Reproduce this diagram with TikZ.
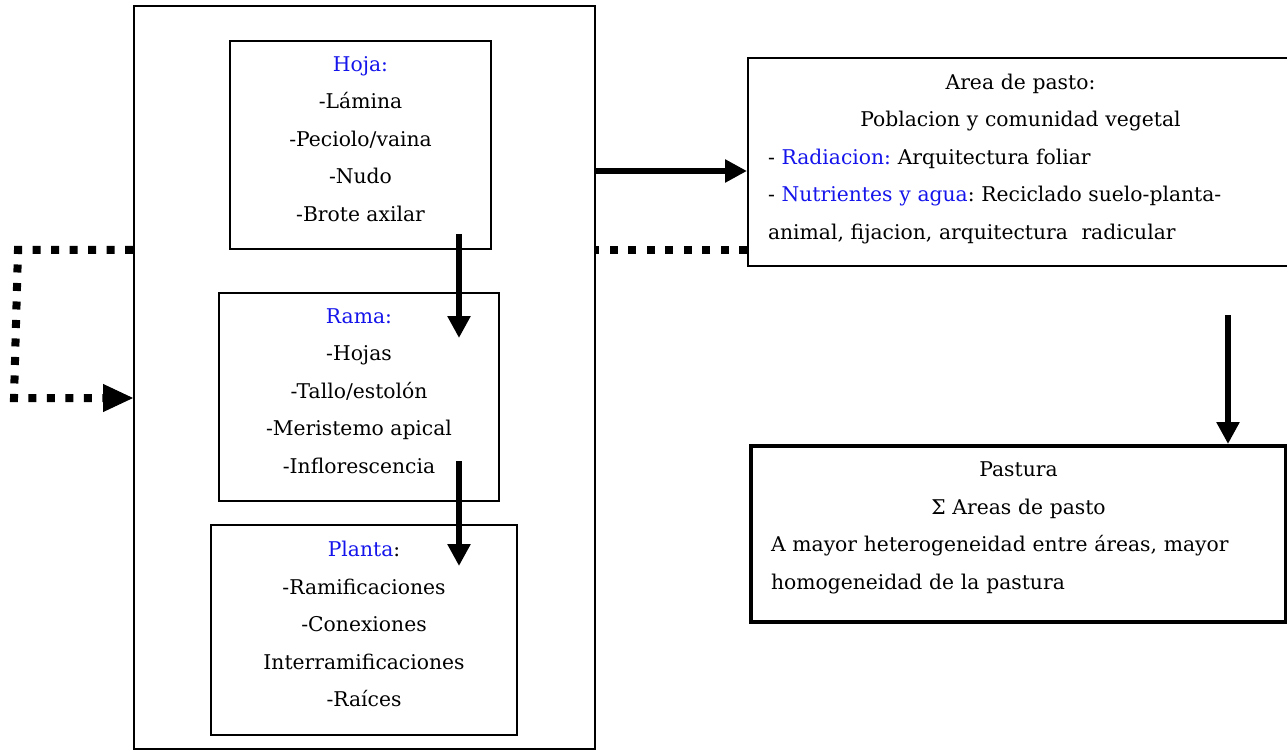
\documentclass[tikz,border=0pt]{standalone}
\usepackage{fontspec}
\setmainfont{DejaVu Serif}
\usetikzlibrary{arrows.meta}
\definecolor{hl}{RGB}{20,20,235}
\frenchspacing
\begin{document}
\begin{tikzpicture}[x=1pt,y=-1pt,
  every node/.style={font=\fontsize{20.3}{37.5}\selectfont},
  box/.style={draw, line width=2pt, inner sep=0pt, anchor=north west, align=center},
  listbox/.style={box, text depth=12pt},
  flow/.style={line width=6pt, -{Triangle[length=22pt,width=22pt]}},
  loopline/.style={line width=8pt, dash pattern=on 8pt off 10.5pt},
  looptip/.style={-{Triangle[length=30pt,width=28pt]}},
]
\useasboundingbox (0,0) rectangle (1287,751);

% plant hierarchy frame
\node[box, line width=1.6pt, minimum width=461pt, minimum height=743pt] (outer) at (133,5) {};

\node[listbox, minimum width=261pt, minimum height=208pt] (hoja) at (229,40)
  {{\color{hl}Hoja:}\\-Lámina\\-Peciolo/vaina\\-Nudo\\-Brote axilar};
\node[listbox, minimum width=280pt, minimum height=208pt] (rama) at (218,292)
  {{\color{hl}Rama:}\\-Hojas\\-Tallo/estolón\\-Meristemo apical\\-Inflorescencia};
\node[listbox, minimum width=306pt, minimum height=210pt] (planta) at (210,524)
  {{\color{hl}Planta}:\\-Ramificaciones\\-Conexiones\\Interramificaciones\\-Raíces};

% grazing area and pasture
\node[box, text height=9pt, minimum width=545pt, minimum height=208pt, text width=505pt, inner xsep=20pt, align=left] (area) at (747,57)
  {\makebox[\linewidth]{Area de pasto:}\\
   \makebox[\linewidth]{Poblacion y comunidad vegetal}\\
   - {\color{hl}Radiacion:} Arquitectura foliar\\
   - {\color{hl}Nutrientes y agua}: Reciclado suelo-planta-\\
   animal, fijacion, arquitectura\ \ radicular};
\node[box, text height=3pt, line width=4pt, minimum width=535pt, minimum height=176pt, text width=495pt, inner xsep=20pt, align=left] (pastura) at (749,444)
  {\makebox[\linewidth]{Pastura}\\
   \makebox[\linewidth]{Σ Areas de pasto}\\
   A mayor heterogeneidad entre áreas, mayor\\
   homogeneidad de la pastura};

% connectors
\coordinate (h1) at (459,234);
\coordinate (h2) at (459,338);
\coordinate (r1) at (459,461);
\coordinate (r2) at (459,566);
\coordinate (p1) at (1228,315);
\coordinate (c1) at (18,250);
\coordinate (c2) at (14,398);

\draw[flow] (h1) -- (h2);
\draw[flow] (r1) -- (r2);
\draw[flow] (outer.east |- 0,171) -- (area.west |- 0,171);
\draw[flow] (p1) -- (pastura.north -| p1);

% feedback loop
\draw[loopline] (area.west |- 0,250) -- (outer.east |- 0,250);
\draw[loopline] (outer.west |- 0,250) -- (c1) -- (c2) -- ([xshift=-30pt]outer.west |- 0,398);
\draw[looptip, line width=1pt] ([xshift=-30pt]outer.west |- 0,398) -- (outer.west |- 0,398);
\end{tikzpicture}
\end{document}
